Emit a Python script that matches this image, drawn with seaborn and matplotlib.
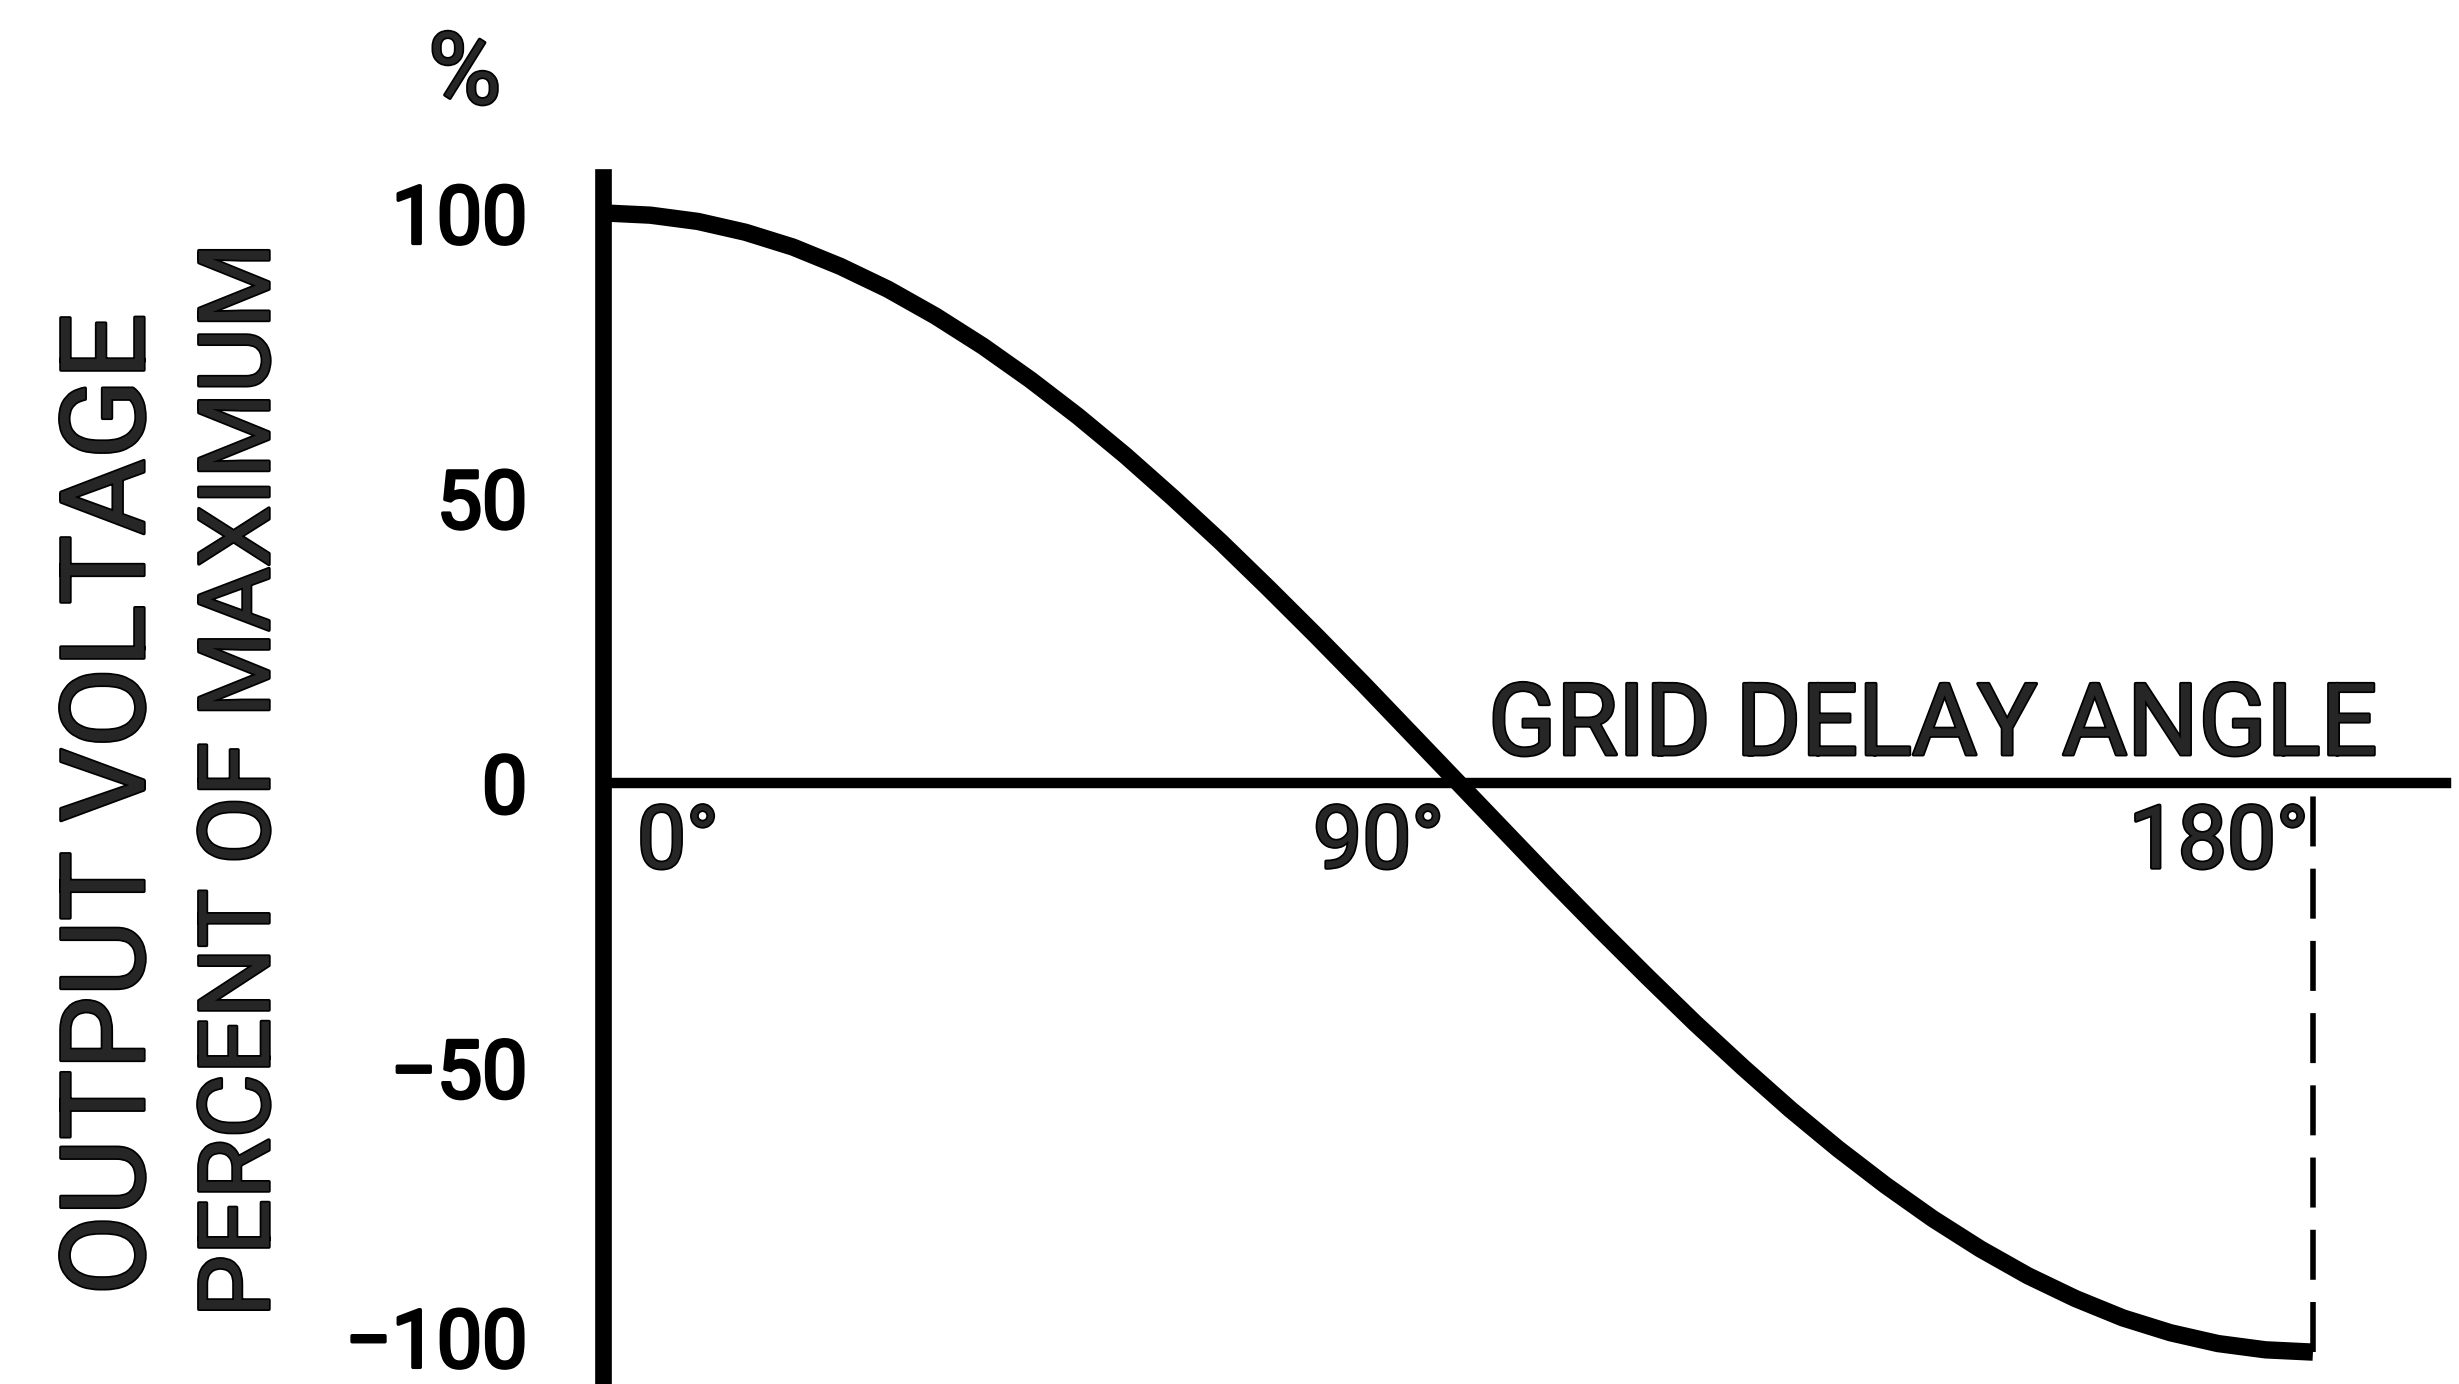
import matplotlib
matplotlib.use("Agg")
import matplotlib.pyplot as plt
import matplotlib.patheffects as pe
import matplotlib.transforms as mtransforms
import seaborn as sns
import pandas as pd

# Output voltage vs grid delay angle.
angle_deg = [0, 5, 10, 15, 20, 25, 30, 35, 40, 45, 50, 55, 60, 65, 70, 75, 80, 85, 90,
             95, 100, 105, 110, 115, 120, 125, 130, 135, 140, 145, 150, 155, 160, 165, 170, 175, 180]
output_pct = [100, 99.6, 98.5, 96.6, 94.0, 90.6, 86.6, 81.9, 76.6, 70.7, 64.3, 57.4, 50.0, 42.3, 34.2, 25.9, 17.4, 8.7, 0,
              -8.7, -17.4, -25.9, -34.2, -42.3, -50.0, -57.4, -64.3, -70.7, -76.6, -81.9, -86.6, -90.6, -94.0, -96.6, -98.5, -99.6, -100]

ytick_vals = [100, 50, 0, -50, -100]
ytick_text = ["100", "50", "0", "\u221250", "\u2212100"]
xtick_vals = [0, 90, 180]
xtick_text = ["0°", "90°", "180°"]

df = pd.DataFrame({"angle": angle_deg, "output": output_pct})

sns.set_style("white")
plt.rcParams["font.family"] = ["Roboto", "DejaVu Sans"]
plt.rcParams["font.weight"] = "normal"

# regular weight, thickened a little to look like hand lettering
heavy = [pe.withStroke(linewidth=2.5, foreground="black")]

fig = plt.figure(figsize=(24.59, 13.84), dpi=100)
ax = fig.add_axes([0.2452, 0.0, 0.7495, 0.8721])

sns.lineplot(data=df, x="angle", y="output", color="black", linewidth=12.5,
             solid_capstyle="butt", ax=ax, zorder=3)

# dashed drop line at the end of the curve
ax.vlines(angle_deg[-1], output_pct[-1], 0, colors="black", linewidth=4,
          linestyles=(0, (9, 4)), zorder=2)

ax.set_xlim(0, 194)
ax.set_ylim(-105.6, 106.3)

for side in ["top", "right"]:
    ax.spines[side].set_visible(False)
ax.spines["bottom"].set_position(("data", 0))
ax.spines["bottom"].set_linewidth(7.5)
ax.spines["left"].set_linewidth(12)
ax.spines["bottom"].set_color("black")
ax.spines["left"].set_color("black")

ax.set_xticks([])
ax.set_yticks(ytick_vals, ytick_text)
ax.tick_params(axis="y", direction="out", length=34.5, width=5, pad=20,
               labelsize=58, colors="black")
for lab in ax.get_yticklabels():
    lab.set_path_effects(heavy)
# lowest label sits right on the bottom edge; lift it so it stays inside
low = ax.get_yticklabels()[-1]
low.set_transform(low.get_transform() + mtransforms.ScaledTranslation(0, 11 / 72, fig.dpi_scale_trans))
ax.set_xlabel("")
ax.set_ylabel("")

# degree labels sit just under the axis line
offsets = [(24.5, -14, "left"), (-10, -14, "right"), (-3, -14, "right")]
for v, t, (dx, dy, ha) in zip(xtick_vals, xtick_text, offsets):
    ax.annotate(t, xy=(v, 0), xytext=(dx, dy), textcoords="offset points",
                ha=ha, va="top", fontsize=63, annotation_clip=False, path_effects=heavy)

ax.annotate("GRID DELAY ANGLE", xy=(140, 0), xytext=(0, 20), textcoords="offset points",
            ha="center", va="baseline", fontsize=72, annotation_clip=False, path_effects=heavy)

fig.text(0.189, 0.945, "%", ha="center", va="center", fontsize=72, path_effects=heavy)
fig.text(0.0455, 0.4184, "OUTPUT VOLTAGE", rotation=90, ha="center", va="center",
         fontsize=84, path_effects=heavy)
fig.text(0.0984, 0.4364, "PERCENT OF MAXIMUM", rotation=90, ha="center", va="center",
         fontsize=71, path_effects=heavy)

fig.savefig("out.png", dpi=100, facecolor="white")
